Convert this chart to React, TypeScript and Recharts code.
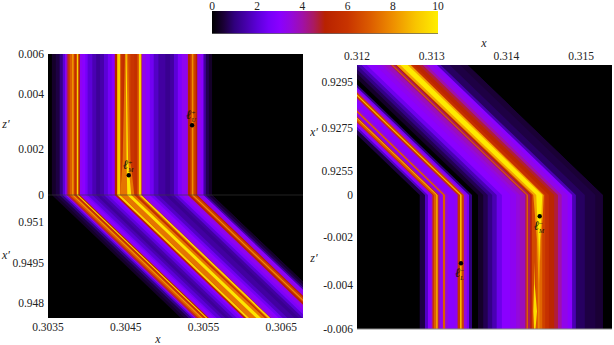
import React from 'react'
import { Area, ComposedChart, ReferenceArea, ReferenceDot, ReferenceLine, XAxis, YAxis } from 'recharts'

// colour map of the scale bar
const cmapValues = [0, 0.5, 1, 1.5, 2, 2.5, 3, 3.5, 4, 4.5, 5, 6, 7, 8, 9, 10]
const cmapColors = ['#000000', '#1a0035', '#30007e', '#4600aa', '#5c00d8', '#7600f8', '#8a00ff', '#9408dc', '#a010a8', '#aa1a60', '#b82200', '#c83400', '#dc5c00', '#ee8e00', '#f8c400', '#ffee00']
const barTicks = [0, 2, 4, 6, 8, 10]

// left panel: x where each strip starts, and the height of the surface there
const leftStops = [0.30355, 0.3036, 0.30365, 0.30369, 0.30372, 0.30374, 0.30376, 0.30378, 0.30381, 0.30383, 0.30385, 0.30387, 0.30389, 0.30391, 0.30394, 0.30398, 0.30401, 0.30407, 0.30412, 0.30417, 0.30422, 0.30427, 0.30432, 0.30435, 0.30436, 0.30439, 0.30443, 0.30446, 0.30449, 0.3045, 0.30453, 0.30456, 0.30461, 0.30465, 0.30467, 0.3047, 0.30471, 0.30476, 0.30481, 0.30486, 0.30492, 0.30501, 0.30507, 0.30512, 0.30517, 0.30522, 0.30528, 0.3053, 0.30533, 0.30535, 0.30537, 0.3054, 0.30542, 0.30547, 0.3055, 0.30553, 0.30557]
const leftValues = [0.4, 0.6, 1.1, 2, 3, 4.5, 6, 7, 8.2, 6.2, 5.5, 9.3, 5, 3.2, 3, 2.5, 2, 1.6, 1.3, 1.5, 2, 2.5, 3, 3.3, 5, 9.3, 6, 5.6, 6, 6.5, 6.5, 6, 5.7, 7, 9.3, 4.5, 3.3, 3, 2.4, 1.8, 1.4, 1.2, 1.4, 2, 2.7, 3.2, 3.5, 5, 6.3, 8, 6.3, 5, 3.3, 3, 1.4, 0.7, 0.4]
const leftEnd = 0.30561
const leftRows = [0.006, 0.0015, 0, -0.005234]
const leftShear = [0, 0, 0, 0.00166]
const leftGlows = [
  { value: 7.5, from: [0.30449, 0.30446, 0.30443, 0.30443], to: [0.30453, 0.30456, 0.30461, 0.30463] },
  { value: 9.8, from: [0.3045, 0.30451, 0.30452, 0.30452], to: [0.30451, 0.30453, 0.30457, 0.30458] },
]
const leftXTicks = [0.3035, 0.3045, 0.3055, 0.3065]
const leftYTicks = [0.006, 0.0043, 0.00196, 0, -0.00114, -0.00288, -0.00458]
const leftYLabels = ['0.006', '0.004', '0.002', '0', '0.951', '0.9495', '0.948']
const leftMarkers = [
  { x: 0.305353, y: 0.002966, sign: '+', name: 'U', above: true },
  { x: 0.304539, y: 0.000838, sign: '+', name: 'M', above: true },
]

// right panel
const rightStops = [0.31284, 0.31291, 0.31295, 0.31299, 0.31301, 0.31303, 0.31306, 0.31308, 0.31309, 0.31311, 0.31315, 0.31318, 0.31322, 0.31327, 0.31331, 0.31334, 0.31335, 0.31338, 0.3134, 0.31343, 0.31347, 0.3135, 0.31354, 0.31362, 0.31369, 0.31375, 0.31381, 0.31387, 0.31394, 0.31405, 0.31413, 0.31418, 0.31425, 0.31427, 0.31429, 0.31432, 0.31434, 0.3144, 0.31442, 0.31448, 0.31452, 0.31457, 0.31464, 0.31469, 0.31474, 0.31482, 0.31488, 0.31493, 0.31505, 0.31519]
const rightValues = [0.6, 1.8, 3, 3.5, 6, 7, 8.5, 6, 4, 3.2, 7, 3.5, 3, 3, 3.2, 4, 6, 9, 6.3, 3.5, 2.5, 1, 0, 0.4, 0.7, 1.1, 1.6, 2.3, 3, 3.2, 3.5, 3.8, 4.5, 7, 4.5, 5, 6.5, 7, 7.2, 6.3, 5.8, 5.2, 4.7, 4, 3.3, 3, 1.6, 0.8, 0.6, 0.5]
const rightEnd = 0.31529
const rightRows = [0.00582, 0, -0.0008, -0.002, -0.003, -0.004, -0.0052, -0.006]
const rightShear = [-0.00181, 0, 0, 0, 0, 0, 0, 0]
const rightGlows = [
  { value: 8.4, from: [0.31434, 0.31436, 0.31438, 0.31441, 0.31442, 0.31443, 0.31443, 0.31443], to: [0.31453, 0.31450, 0.31449, 0.31446, 0.31445, 0.31444, 0.31444, 0.31444] },
  { value: 9.9, from: [0.31439, 0.3144, 0.31441, 0.31443, 0.31444, 0.31444, 0.31444, 0.31444], to: [0.31449, 0.31448, 0.31447, 0.31445, 0.31444, 0.31444, 0.31444, 0.31444] },
  { value: 9.6, from: [0.31437, 0.31437, 0.31437, 0.31437, 0.31437, 0.31437, 0.31436, 0.31437], to: [0.31437, 0.31437, 0.31437, 0.31437, 0.31437, 0.31438, 0.31441, 0.31439] },
]
const rightXTicks = [0.312, 0.313, 0.314, 0.315]
const rightYTicks = [0.00505, 0.003, 0.00107, 0, -0.00186, -0.00403, -0.006]
const rightYLabels = ['0.9295', '0.9275', '0.9255', '0', '-0.002', '-0.004', '-0.006']
const rightMarkers = [
  { x: 0.314446, y: -0.000954, sign: '\u2212', name: 'M', above: false },
  { x: 0.313392, y: -0.003058, sign: '\u2212', name: 'L', above: false },
]

const serif = '"Liberation Serif", serif'
const tickStyle = { fontFamily: serif, fontSize: 11.5, fill: '#222' }

function colorAt(v: number) {
  let i = 0
  while (i < cmapValues.length - 2 && v > cmapValues[i + 1]) i++
  const t = (v - cmapValues[i]) / (cmapValues[i + 1] - cmapValues[i])
  const a = cmapColors[i]
  const b = cmapColors[i + 1]
  const mix = (p: number) => {
    const ca = parseInt(a.slice(p, p + 2), 16)
    const cb = parseInt(b.slice(p, p + 2), 16)
    return Math.round(ca + (cb - ca) * t)
  }
  return `rgb(${mix(1)},${mix(3)},${mix(5)})`
}

function buildTable(
  rows: number[],
  shear: number[],
  stops: number[],
  end: number,
  glows: { from: number[]; to: number[] }[],
) {
  return rows.map((y, r) => {
    const row: Record<string, number | number[]> = { y }
    // each strip runs under the next one so no seam shows between them
    stops.forEach((s, k) => {
      const stop = k + 2 < stops.length ? stops[k + 2] : end
      row[`s${k}`] = [s + shear[r], stop + shear[r]]
    })
    glows.forEach((g, k) => {
      row[`g${k}`] = [g.from[r] + shear[r], g.to[r] + shear[r]]
    })
    return row
  })
}

function Marker(props: any) {
  const { cx, cy, sign, name, above } = props
  const ty = above ? cy - 6 : cy + 14
  return (
    <g>
      <circle cx={cx} cy={cy} r={2.2} fill="#000" />
      <text x={cx - 6} y={ty} fontFamily={serif} fontSize={13} fontStyle="italic" fill="#111">
        ℓ
        <tspan dy={-4} fontSize={7} fontStyle="normal">{sign}</tspan>
        <tspan dy={7} dx={-4} fontSize={6}>{name}</tspan>
      </text>
    </g>
  )
}

function AxisTitle({ x, y, children }: { x: number; y: number; children: string }) {
  return (
    <text x={x} y={y} textAnchor="middle" fontFamily={serif} fontSize={12} fontStyle="italic" fill="#222">
      {children}
    </text>
  )
}

interface PanelProps {
  table: Record<string, number | number[]>[]
  stops: number[]
  values: number[]
  glows: { value: number }[]
  xDomain: [number, number]
  yDomain: [number, number]
  xTicks: number[]
  yTicks: number[]
  yLabels: string[]
  markers: typeof leftMarkers
  children?: React.ReactNode
  width: number
  margin: { top: number; right: number; bottom: number; left: number }
  xOrientation: 'top' | 'bottom'
  xHeight: number
  yWidth: number
  xDigits: number
}

function Panel(p: PanelProps) {
  return (
    <ComposedChart layout="vertical" width={p.width} height={345} data={p.table} margin={p.margin}>
      <XAxis
        type="number"
        domain={p.xDomain}
        allowDataOverflow
        ticks={p.xTicks}
        interval={0}
        orientation={p.xOrientation}
        height={p.xHeight}
        axisLine={false}
        tickLine={false}
        tickSize={0}
        tickMargin={5}
        tick={tickStyle}
        tickFormatter={(v: number) => v.toFixed(p.xDigits)}
      />
      <YAxis
        type="number"
        dataKey="y"
        reversed
        domain={p.yDomain}
        allowDataOverflow
        ticks={p.yTicks}
        interval={0}
        width={p.yWidth}
        axisLine={false}
        tickLine={false}
        tickSize={0}
        tickMargin={4}
        tick={tickStyle}
        tickFormatter={(v: number) => p.yLabels[p.yTicks.indexOf(v)] ?? ''}
      />
      <ReferenceArea x1={p.xDomain[0]} x2={p.xDomain[1]} y1={p.yDomain[0]} y2={p.yDomain[1]} fill="#000" fillOpacity={1} stroke="none" />
      {p.stops.map((_, k) => (
        <Area key={k} dataKey={`s${k}`} type="linear" fill={colorAt(p.values[k])} fillOpacity={1} stroke="none" dot={false} activeDot={false} isAnimationActive={false} />
      ))}
      {p.glows.map((g, k) => (
        <Area key={k} dataKey={`g${k}`} type="linear" fill={colorAt(g.value)} fillOpacity={1} stroke="none" dot={false} activeDot={false} isAnimationActive={false} />
      ))}
      {p.markers.map(m => (
        <ReferenceDot key={m.name} x={m.x} y={m.y} shape={(s: any) => <Marker {...s} sign={m.sign} name={m.name} above={m.above} />} />
      ))}
      {p.children}
    </ComposedChart>
  )
}

export default function App() {
  const leftTable = buildTable(leftRows, leftShear, leftStops, leftEnd, leftGlows)
  const rightTable = buildTable(rightRows, rightShear, rightStops, rightEnd, rightGlows)
  return (
    <div style={{ position: 'absolute', left: 0, top: 0, width: 614, height: 345, background: '#fff' }}>
      <div style={{ position: 'absolute', left: 0, top: 0 }}>
        <ComposedChart width={614} height={34} data={[{ v: 0, h: 1 }, { v: 10, h: 1 }]} margin={{ top: 0, right: 176, bottom: 0, left: 212 }}>
          <defs>
            <linearGradient id="scaleBar" x1="0" y1="0" x2="1" y2="0">
              {cmapValues.map((v, i) => (
                <stop key={v} offset={v / 10} stopColor={cmapColors[i]} />
              ))}
            </linearGradient>
          </defs>
          <XAxis type="number" dataKey="v" domain={[0, 10]} ticks={barTicks} interval={0} orientation="top" height={11} axisLine={false} tickLine={false} tickSize={0} tickMargin={1} tick={tickStyle} />
          <YAxis hide domain={[0, 1]} />
          <Area dataKey="h" type="linear" fill="url(#scaleBar)" fillOpacity={1} stroke="none" dot={false} activeDot={false} isAnimationActive={false} />
          <ReferenceLine y={0} stroke="#666" strokeWidth={1.5} />
        </ComposedChart>
      </div>
      <div style={{ position: 'absolute', left: 0, top: 0 }}>
        <Panel
          table={leftTable}
          stops={leftStops}
          values={leftValues}
          glows={leftGlows}
          xDomain={[0.3035, 0.30678]}
          yDomain={[-0.005234, 0.006]}
          xTicks={leftXTicks}
          yTicks={leftYTicks}
          yLabels={leftYLabels}
          markers={leftMarkers}
          width={310}
          margin={{ top: 54, right: 7, bottom: 0, left: 0 }}
          xOrientation="bottom"
          xHeight={27}
          yWidth={48}
          xDigits={4}
        >
          <ReferenceLine y={0} stroke="#3a3a3a" strokeWidth={0.6} />
          <AxisTitle x={158} y={343}>x</AxisTitle>
          <AxisTitle x={6} y={128}>z′</AxisTitle>
          <AxisTitle x={6} y={259}>x′</AxisTitle>
        </Panel>
      </div>
      <div style={{ position: 'absolute', left: 310, top: 0 }}>
        <Panel
          table={rightTable}
          stops={rightStops}
          values={rightValues}
          glows={rightGlows}
          xDomain={[0.312, 0.315414]}
          yDomain={[-0.006, 0.00582]}
          xTicks={rightXTicks}
          yTicks={rightYTicks}
          yLabels={rightYLabels}
          markers={rightMarkers}
          width={304}
          margin={{ top: 0, right: 2, bottom: 16, left: 0 }}
          xOrientation="top"
          xHeight={65}
          yWidth={47}
          xDigits={3}
        >
          <ReferenceLine y={-0.006} stroke="#888" strokeWidth={1} />
          <AxisTitle x={174} y={47}>x</AxisTitle>
          <AxisTitle x={4} y={136}>x′</AxisTitle>
          <AxisTitle x={4} y={262}>z′</AxisTitle>
        </Panel>
      </div>
    </div>
  )
}
